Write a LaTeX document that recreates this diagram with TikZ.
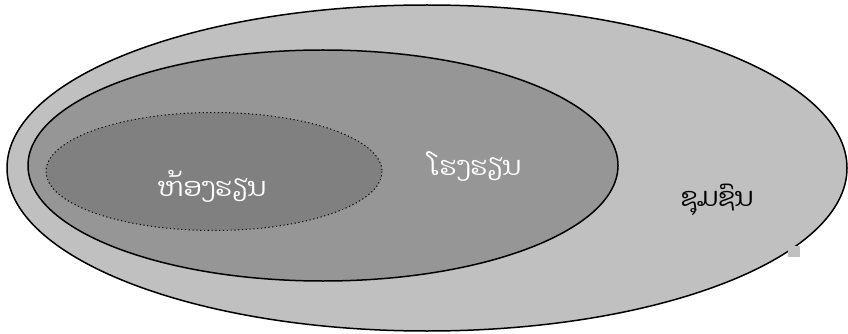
\documentclass[tikz,border=0pt]{standalone}
\usepackage{fontspec}
\newfontfamily\laofont[Script=Lao]{Dhyana}
\definecolor{outerfill}{RGB}{192,192,192}
\definecolor{midfill}{RGB}{150,150,150}
\definecolor{innerfill}{RGB}{128,128,128}
\tikzset{
  laolabel/.style={font=\laofont\fontsize{26}{30}\selectfont, inner sep=0pt},
}
\begin{document}
\begin{tikzpicture}[x=1pt,y=-1pt]
\useasboundingbox (0,0) rectangle (848,334);
\draw[fill=outerfill, line width=1.5pt] (427,168) ellipse [x radius=420, y radius=163];
\draw[fill=midfill, line width=1.5pt] (323,165.5) ellipse [x radius=295, y radius=115.5];
\draw[fill=innerfill, line width=1pt, dash pattern=on 1.2pt off 2.6pt] (214,171.5) ellipse [x radius=168, y radius=59];
\fill[white] (800,247) rectangle (848,334);
\fill[outerfill] (788,246) rectangle (800,257);
\node[laolabel, text=white] (classroom) at (212,186) {ຫ້ອງຮຽນ};
\node[laolabel, text=white] (school) at (475,166) {ໂຮງຮຽນ};
\node[laolabel, text=black] (community) at (717,200) {ຊຸມຊົນ};
\end{tikzpicture}
\end{document}
